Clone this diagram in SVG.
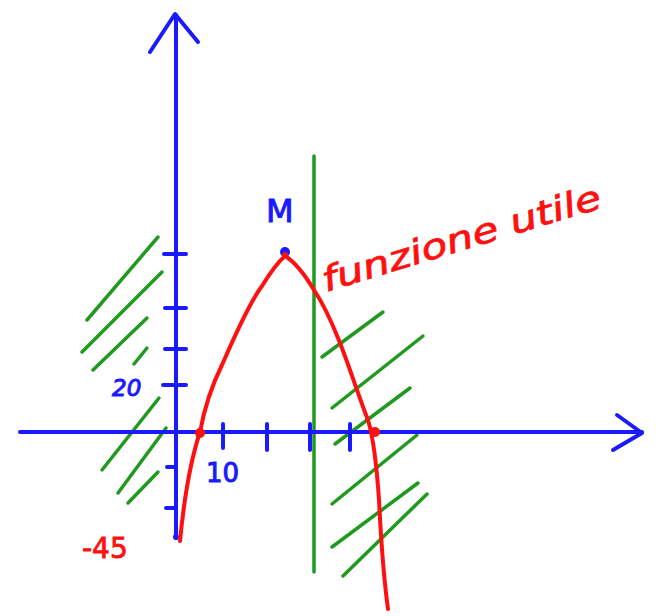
<svg xmlns="http://www.w3.org/2000/svg" width="670" height="616" viewBox="0 0 670 616">
<style>
.ax{stroke:#1a1aff;stroke-width:4;fill:none;stroke-linecap:round;stroke-linejoin:round}
.hatch{stroke:#1f9a1f;stroke-width:3.5;fill:none;stroke-linecap:round}
.curve{stroke:#ff1010;stroke-width:4;fill:none;stroke-linecap:round;stroke-linejoin:round}
.bt{fill:#1a1aff;stroke:#1a1aff;stroke-width:1;font-family:"DejaVu Sans",sans-serif}
.rt{fill:#ff1010;stroke:#ff1010;stroke-width:0.8;font-family:"DejaVu Sans",sans-serif}
</style>
<rect width="670" height="616" fill="#fff"/>
<g id="hatch-left">
<line class="hatch" x1="158" y1="237" x2="87" y2="320"/>
<line class="hatch" x1="162" y1="272" x2="82" y2="352"/>
<line class="hatch" x1="147" y1="318" x2="93" y2="370"/>
<line class="hatch" x1="147" y1="348" x2="134" y2="364"/>
<line class="hatch" x1="159" y1="398" x2="102" y2="470"/>
<line class="hatch" x1="166" y1="428" x2="118" y2="493"/>
<line class="hatch" x1="158" y1="472" x2="128" y2="503"/>
</g>
<g id="hatch-right">
<line class="hatch" x1="322" y1="357" x2="383" y2="312"/>
<line class="hatch" x1="332" y1="408" x2="423" y2="336"/>
<line class="hatch" x1="335" y1="444" x2="410" y2="388"/>
<line class="hatch" x1="332" y1="504" x2="417" y2="435"/>
<line class="hatch" x1="332" y1="547" x2="418" y2="483"/>
<line class="hatch" x1="343" y1="576" x2="427" y2="494"/>
</g>
<g id="green-line">
<line class="hatch" x1="314" y1="156" x2="314" y2="572" stroke-width="3"/>
</g>
<g id="axes">
<line class="ax" x1="20" y1="432" x2="642" y2="432"/>
<polyline class="ax" points="617,415 642,433 613,450"/>
<line class="ax" x1="176" y1="15" x2="176" y2="538"/>
<polyline class="ax" points="150,52 175,14 198,42"/>
<circle cx="176" cy="537" r="3" fill="#1a1aff"/>
<line class="ax" x1="164" y1="254" x2="186" y2="254"/>
<line class="ax" x1="165" y1="308" x2="186" y2="308"/>
<line class="ax" x1="165" y1="349" x2="186" y2="349"/>
<line class="ax" x1="163" y1="385" x2="186" y2="385"/>
<line class="ax" x1="167" y1="467" x2="176" y2="467"/>
<line class="ax" x1="166" y1="508" x2="176" y2="508" stroke-width="6"/>
<line class="ax" x1="223" y1="424" x2="223" y2="448"/>
<line class="ax" x1="267" y1="424" x2="267" y2="450"/>
<line class="ax" x1="310" y1="424" x2="310" y2="450"/>
<line class="ax" x1="350" y1="424" x2="350" y2="450"/>
</g>
<g id="curve">
<path class="curve" d="M180 541 C183 510 189 465 200 432 C205 405 212 385 222 365 C235 335 250 302 262 286 C270 273 278 262 285 256 C295 262 305 275 314 290 C322 302 330 318 338 338 C348 362 358 395 368 420 C374 440 377 470 379 500 C381 540 384 580 388 609"/>
<circle cx="200" cy="433" r="5" fill="#ff1010"/>
<circle cx="375" cy="432" r="5" fill="#ff1010"/>
</g>
<g id="point-M">
<circle cx="285" cy="252" r="5" fill="#1a1aff"/>
<circle cx="285" cy="255" r="3" fill="#ff1010"/>
<text class="bt" x="266" y="222" font-size="32">M</text>
</g>
<g id="labels">
<text class="bt" x="112" y="396" font-size="23" font-style="italic">20</text>
<text class="bt" x="206" y="482" font-size="26">10</text>
<text class="rt" x="82" y="558" font-size="28">-45</text>
<text class="rt" x="326" y="292" font-size="34" font-style="italic" textLength="290" lengthAdjust="spacingAndGlyphs" transform="rotate(-17 326 292)">funzione utile</text>
</g>
</svg>
